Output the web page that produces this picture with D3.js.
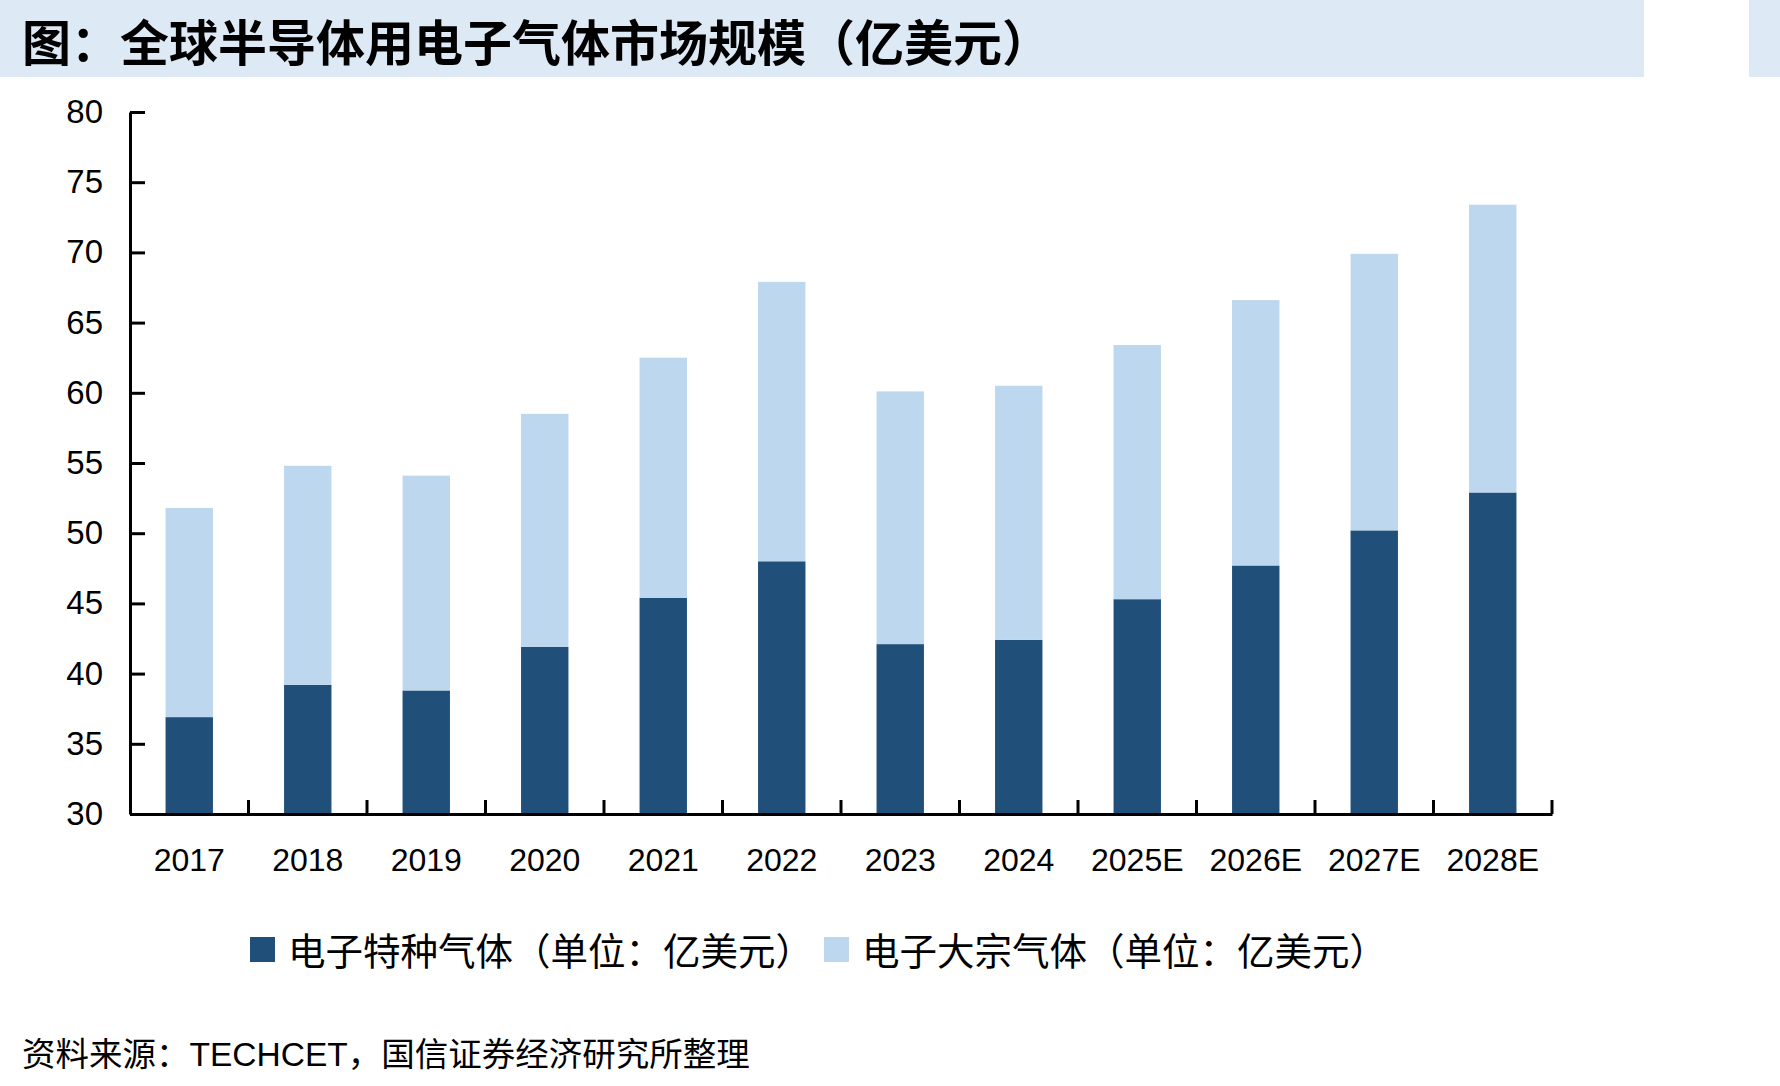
<!DOCTYPE html>
<html>
<head>
<meta charset="utf-8">
<script src="https://cdn.jsdelivr.net/npm/d3@7"></script>
<style>
  body { margin: 0; background: #fff; }
  svg { display: block; }
</style>
</head>
<body>
<svg id="chart" width="1780" height="1086"></svg>
<script>
// data
const years = ['2017', '2018', '2019', '2020', '2021', '2022', '2023', '2024', '2025E', '2026E', '2027E', '2028E'];
const specialGas = [36.9, 39.2, 38.8, 41.9, 45.4, 48.0, 42.1, 42.4, 45.3, 47.7, 50.2, 52.9];
const bulkGas = [14.9, 15.6, 15.3, 16.6, 17.1, 19.9, 18.0, 18.1, 18.1, 18.9, 19.7, 20.5];
const yTicks = [30, 35, 40, 45, 50, 55, 60, 65, 70, 75, 80];
const seriesNames = ['电子特种气体（单位：亿美元）', '电子大宗气体（单位：亿美元）'];
const colors = ['#204f79', '#bdd7ee'];

const svg = d3.select('#chart');
const cjk = '"Noto Sans CJK SC", sans-serif';
const num = '"Liberation Sans", "Noto Sans CJK SC", sans-serif';

// title band
svg.append('rect').attr('x', 0).attr('y', 0).attr('width', 1644).attr('height', 77).attr('fill', '#dde9f5');
svg.append('rect').attr('x', 1749).attr('y', 0).attr('width', 31).attr('height', 77).attr('fill', '#dde9f5');
svg.append('text')
    .attr('x', 22).attr('y', 39)
    .attr('dominant-baseline', 'central')
    .attr('font-family', cjk).attr('font-weight', 700).attr('font-size', 49)
    .attr('fill', '#000')
    .text('图：全球半导体用电子气体市场规模（亿美元）');

const plotLeft = 130, plotRight = 1552, plotTop = 112, plotBottom = 814;

const x = d3.scaleBand().domain(years).range([plotLeft, plotRight]).paddingInner(0.6).paddingOuter(0.3);
const y = d3.scaleLinear().domain([30, 80]).range([plotBottom, plotTop]);

const rows = years.map((yr, i) => ({ year: yr, special: specialGas[i], bulk: bulkGas[i] }));
const stack = d3.stack().keys(['special', 'bulk'])(rows);

svg.append('g')
    .selectAll('g')
    .data(stack)
    .join('g')
    .attr('fill', (d, i) => colors[i])
    .selectAll('rect')
    .data(d => d)
    .join('rect')
    .attr('x', d => x(d.data.year))
    .attr('width', x.bandwidth())
    .attr('y', d => y(d[1]))
    .attr('height', d => y(Math.max(d[0], 30)) - y(d[1]));

// y axis
const yAxis = svg.append('g')
    .attr('transform', `translate(${plotLeft},0)`)
    .call(d3.axisLeft(y).tickValues(yTicks).tickSize(-15).tickSizeOuter(0).tickPadding(27));
yAxis.select('.domain').attr('stroke', '#000').attr('stroke-width', 3);
yAxis.selectAll('.tick line').attr('stroke', '#000').attr('stroke-width', 3);
yAxis.selectAll('.tick text').attr('font-family', num).attr('font-size', 33).attr('fill', '#000');

// x axis: labels under bars, ticks between bands
const xAxis = svg.append('g')
    .attr('transform', `translate(0,${plotBottom})`)
    .call(d3.axisBottom(x).tickSize(0).tickPadding(34));
xAxis.select('.domain').attr('stroke', '#000').attr('stroke-width', 3);
xAxis.selectAll('.tick text').attr('font-family', num).attr('font-size', 32).attr('fill', '#000');

const step = x.step();
svg.append('g')
    .selectAll('line')
    .data(years)
    .join('line')
    .attr('x1', (d, i) => plotLeft + step * (i + 1))
    .attr('x2', (d, i) => plotLeft + step * (i + 1))
    .attr('y1', plotBottom)
    .attr('y2', plotBottom - 14)
    .attr('stroke', '#000')
    .attr('stroke-width', 3);

// legend
const legendX = [250, 824];
const legend = svg.append('g');
seriesNames.forEach((name, i) => {
    legend.append('rect')
        .attr('x', legendX[i]).attr('y', 937)
        .attr('width', 25).attr('height', 25)
        .attr('fill', colors[i]);
    legend.append('text')
        .attr('x', legendX[i] + 38).attr('y', 948)
        .attr('dominant-baseline', 'central')
        .attr('font-family', cjk).attr('font-size', 37.5).attr('fill', '#000')
        .text(name);
});

// source note
svg.append('text')
    .attr('x', 22).attr('y', 1054)
    .attr('dominant-baseline', 'central')
    .attr('font-family', num).attr('font-size', 33.5).attr('fill', '#000')
    .text('资料来源：TECHCET，国信证券经济研究所整理');
</script>
</body>
</html>
